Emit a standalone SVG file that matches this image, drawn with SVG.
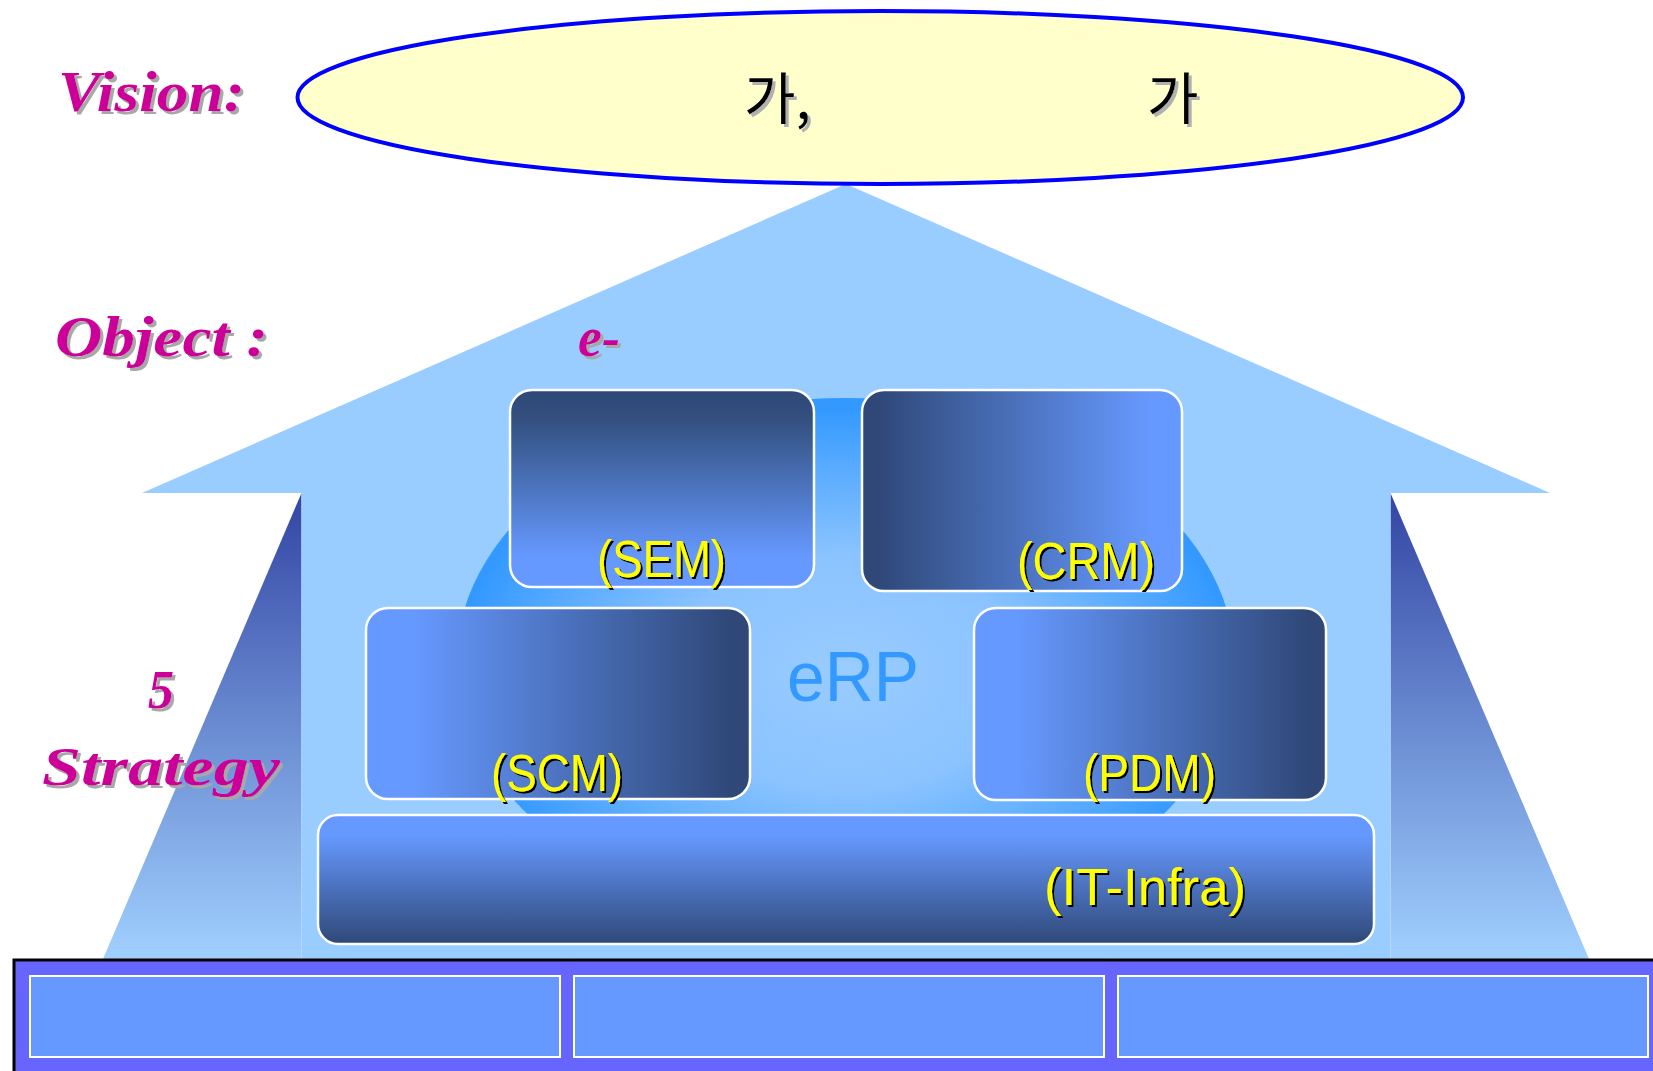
<svg xmlns="http://www.w3.org/2000/svg" width="1653" height="1071" viewBox="0 0 1653 1071">
<defs>
  <style>
    .mag{font-family:"Liberation Serif","Times New Roman",serif;font-weight:bold;font-style:italic;fill:#CC0099;filter:url(#shGray);}
    .lbl{font-family:"Liberation Sans",Arial,sans-serif;font-size:52px;fill:#FFFF00;filter:url(#shBlack);}
    .kr{font-family:"Noto Sans CJK KR",sans-serif;font-size:56px;fill:#000;filter:url(#shKr);}
    .box{stroke:#FFFFFF;stroke-width:2.5;}
    .cell{fill:#6699FF;stroke:#FFFFFF;stroke-width:2;}
  </style>
  <linearGradient id="gSide" x1="0" y1="0" x2="0" y2="1">
    <stop offset="0" stop-color="#3345A3"/>
    <stop offset="1" stop-color="#A0D0FF"/>
  </linearGradient>
  <radialGradient id="gCircle" cx="0.5" cy="0.52" r="0.5">
    <stop offset="0" stop-color="#99CCFF"/>
    <stop offset="0.45" stop-color="#8AC3FF"/>
    <stop offset="0.8" stop-color="#55A9FF"/>
    <stop offset="1" stop-color="#3399FF"/>
  </radialGradient>
  <linearGradient id="gDownLight" x1="0" y1="0" x2="0" y2="1">
    <stop offset="0" stop-color="#2F4878"/>
    <stop offset="0.15" stop-color="#33507F"/>
    <stop offset="0.85" stop-color="#6699FF"/>
    <stop offset="1" stop-color="#6699FF"/>
  </linearGradient>
  <linearGradient id="gRightLight" x1="0" y1="0" x2="1" y2="0">
    <stop offset="0.05" stop-color="#2F4878"/>
    <stop offset="0.9" stop-color="#6699FF"/>
  </linearGradient>
  <linearGradient id="gRightDark" x1="0" y1="0" x2="1" y2="0">
    <stop offset="0.12" stop-color="#6699FF"/>
    <stop offset="0.95" stop-color="#2F4878"/>
  </linearGradient>
  <linearGradient id="gDownDark" x1="0" y1="0" x2="0" y2="1">
    <stop offset="0.15" stop-color="#6699FF"/>
    <stop offset="1" stop-color="#2F4878"/>
  </linearGradient>
  <filter id="shGray" x="-10%" y="-20%" width="130%" height="150%">
    <feDropShadow dx="3" dy="3" stdDeviation="0.6" flood-color="#A8A8A8"/>
  </filter>
  <filter id="shBlack" x="-10%" y="-20%" width="130%" height="150%">
    <feDropShadow dx="2" dy="2" stdDeviation="0" flood-color="#000000"/>
  </filter>
  <filter id="shKr" x="-10%" y="-20%" width="130%" height="150%">
    <feDropShadow dx="3" dy="3" stdDeviation="0.5" flood-color="#B0B0B0"/>
  </filter>
</defs>

<g id="house">
  <polygon points="301.5,493 301.5,959 103,959" fill="url(#gSide)"/>
  <polygon points="1390.5,493 1390.5,959 1589,959" fill="url(#gSide)"/>
  <polygon points="846,184 1550,493 1390.5,493 1390.5,959 301.5,959 301.5,493 142,493" fill="#99CCFF"/>
</g>

<g id="erp-circle">
  <ellipse cx="845.5" cy="662" rx="389" ry="264" fill="url(#gCircle)"/>
  <text x="787" y="701" font-family="Liberation Sans, Arial, sans-serif" font-size="71" fill="#3399FF" textLength="132" lengthAdjust="spacingAndGlyphs">eRP</text>
</g>

<g id="vision">
  <ellipse cx="880.25" cy="97.5" rx="582.75" ry="86.5" fill="#FFFFCC" stroke="#0000FF" stroke-width="4"/>
  <text class="kr" x="744" y="119">가,</text>
  <text class="kr" x="1147" y="119">가</text>
</g>

<g id="labels">
  <text class="mag" x="58" y="111" font-size="56" textLength="187" lengthAdjust="spacingAndGlyphs">Vision:</text>
  <text class="mag" x="55" y="356" font-size="56" textLength="213" lengthAdjust="spacingAndGlyphs">Object :</text>
  <text class="mag" x="578" y="356" font-size="56" textLength="42" lengthAdjust="spacingAndGlyphs">e-</text>
  <text class="mag" x="148" y="708" font-size="54" textLength="26" lengthAdjust="spacingAndGlyphs">5</text>
  <text class="mag" x="42" y="785" font-size="54" textLength="238" lengthAdjust="spacingAndGlyphs">Strategy</text>
</g>

<g id="sem">
  <rect class="box" x="510" y="390" width="304" height="197" rx="22" ry="22" fill="url(#gDownLight)"/>
  <text class="lbl" x="597" y="577" textLength="129" lengthAdjust="spacingAndGlyphs">(SEM)</text>
</g>
<g id="crm">
  <rect class="box" x="862" y="390" width="320" height="201" rx="22" ry="22" fill="url(#gRightLight)"/>
  <text class="lbl" x="1017" y="579" textLength="138" lengthAdjust="spacingAndGlyphs">(CRM)</text>
</g>
<g id="scm">
  <rect class="box" x="366" y="608" width="384" height="191" rx="22" ry="22" fill="url(#gRightDark)"/>
  <text class="lbl" x="491" y="791" textLength="132" lengthAdjust="spacingAndGlyphs">(SCM)</text>
</g>
<g id="pdm">
  <rect class="box" x="974" y="608" width="352" height="192" rx="22" ry="22" fill="url(#gRightDark)"/>
  <text class="lbl" x="1083" y="791" textLength="133" lengthAdjust="spacingAndGlyphs">(PDM)</text>
</g>
<g id="it-infra">
  <rect class="box" x="318" y="815" width="1056" height="129" rx="20" ry="20" fill="url(#gDownDark)"/>
  <text class="lbl" x="1044" y="905" textLength="202" lengthAdjust="spacingAndGlyphs">(IT-Infra)</text>
</g>

<g id="platform">
  <rect x="14" y="960" width="1650" height="120" fill="#6666FF" stroke="#000000" stroke-width="3"/>
  <rect class="cell" x="30" y="976" width="530" height="81"/>
  <rect class="cell" x="574" y="976" width="530" height="81"/>
  <rect class="cell" x="1118" y="976" width="530" height="81"/>
</g>

<g id="connectors"></g>
</svg>
